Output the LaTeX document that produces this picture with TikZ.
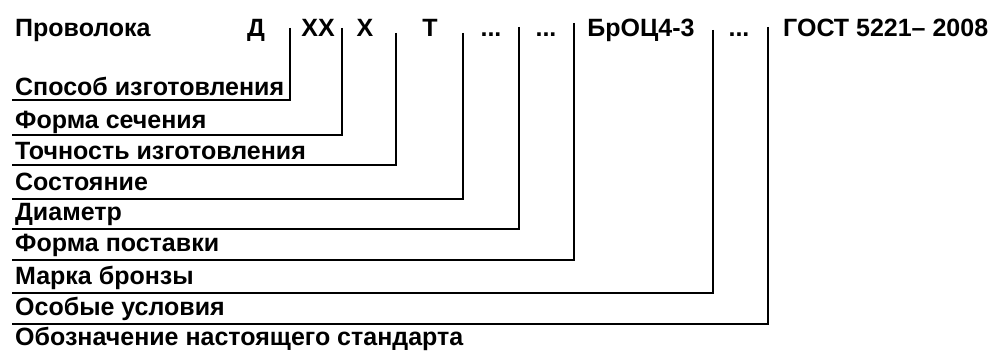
\documentclass[tikz,border=0pt]{standalone}
\usepackage{fontspec}
\setmainfont{Liberation Sans}
\begin{document}
\begin{tikzpicture}[x=1pt,y=-1pt,
  txt/.style={inner sep=0pt,font=\bfseries\fontsize{25}{30}\selectfont,anchor=base west},
  tok/.style={inner sep=0pt,font=\bfseries\fontsize{25}{30}\selectfont,anchor=base},
  thick line/.style={line width=2.8pt},
  thin line/.style={line width=1.8pt}]
\useasboundingbox (0,0) rectangle (1001,352);
% top row
\node[txt] (w) at (15,37) {Проволока};
\node[tok] (d) at (256,37) {Д};
\node[tok] (xx) at (318,37) {ХХ};
\node[tok] (x) at (365,37) {Х};
\node[tok] (t) at (430,37) {Т};
\node[tok] (e1) at (491,37) {...};
\node[tok] (e2) at (546,37) {...};
\node[tok] (br) at (641,37) {БрОЦ4-3};
\node[tok] (e3) at (739,37) {...};
\node[txt] (gost) at (783,37) {ГОСТ 5221– 2008};
% labels
\node[txt] (l1) at (15,96) {Способ изготовления};
\node[txt] (l2) at (15,129) {Форма сечения};
\node[txt] (l3) at (15,160) {Точность изготовления};
\node[txt] (l4) at (15,191) {Состояние};
\node[txt] (l5) at (15,221) {Диаметр};
\node[txt] (l6) at (15,252) {Форма поставки};
\node[txt] (l7) at (15,285) {Марка бронзы};
\node[txt] (l8) at (15,316) {Особые условия};
\node[txt] (l9) at (15,346) {Обозначение настоящего стандарта};
% connector ends
\coordinate (t1) at (290,28);  \coordinate (b1) at (12,100);
\coordinate (t2) at (342,28);  \coordinate (b2) at (12,135);
\coordinate (t3) at (396,33);  \coordinate (b3) at (12,165);
\coordinate (t4) at (463,33);  \coordinate (b4) at (12,199);
\coordinate (t5) at (519,27);  \coordinate (b5) at (12,229);
\coordinate (t6) at (574,23);  \coordinate (b6) at (12,260);
\coordinate (t7) at (713,30);  \coordinate (b7) at (12,293);
\coordinate (t8) at (768,27);  \coordinate (b8) at (12,324);
\draw[thick line] (t1) |- (b1);
\draw[thick line] (t2) |- (b2);
\draw[thick line] (t3) |- (b3);
\draw[thick line] (t4) |- (b4);
\draw[thick line] (t5) |- (b5);
\draw[thin line] (t6) |- (b6);
\draw[thick line] (t7) |- (b7);
\draw[thin line] (t8) |- (b8);
\end{tikzpicture}
\end{document}
